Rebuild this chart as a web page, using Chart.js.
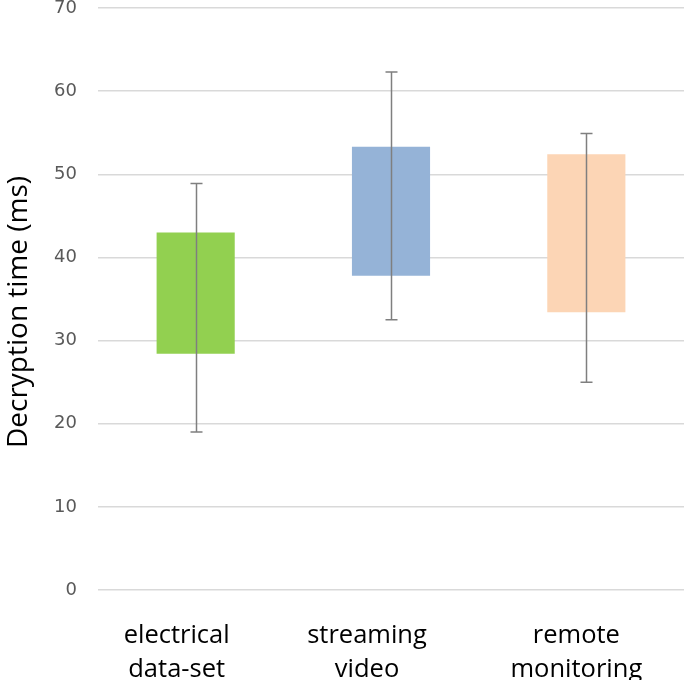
<!DOCTYPE html>
<html>
<head>
<meta charset="utf-8">
<script src="https://cdn.jsdelivr.net/npm/chart.js@4/dist/chart.umd.min.js"></script>
<style>
  html, body { margin: 0; padding: 0; background: #fff; }
  #wrap { width: 685px; height: 680px; position: relative; }
</style>
</head>
<body>
<div id="wrap"><canvas id="chart"></canvas></div>
<script>
/* data */
const categories  = [['electrical', 'data-set'], ['streaming', 'video'], ['remote', 'monitoring']];
const boxLow      = [28.4, 37.8, 33.4];
const boxHigh     = [43.0, 53.3, 52.4];
const whiskerLow  = [19.0, 32.5, 25.0];
const whiskerHigh = [48.9, 62.3, 54.9];
const barColors   = ['#92d050', '#95b3d7', '#fcd5b5'];
const yTicks      = [0, 10, 20, 30, 40, 50, 60, 70];
const yTitle      = 'Decryption time (ms)';

// layout: the category labels in the original sit a little left of their boxes
const labelShift = [-19, -24, -10];

const FONT = "'Open Sans', sans-serif";

// whiskers on top of the boxes, plus category labels and axis title
const extrasPlugin = {
  id: 'extras',
  afterDatasetsDraw(chart) {
    const { ctx, scales: { x, y } } = chart;
    ctx.save();
    ctx.strokeStyle = '#7f7f7f';
    ctx.lineWidth = 1.5;
    whiskerLow.forEach((lo, i) => {
      const cx = Math.round(x.getPixelForValue(i)) + 0.5;
      const yLo = y.getPixelForValue(lo);
      const yHi = y.getPixelForValue(whiskerHigh[i]);
      ctx.beginPath();
      ctx.moveTo(cx, yLo); ctx.lineTo(cx, yHi);
      ctx.moveTo(cx - 6, yLo); ctx.lineTo(cx + 6, yLo);
      ctx.moveTo(cx - 6, yHi); ctx.lineTo(cx + 6, yHi);
      ctx.stroke();
    });
    ctx.restore();
  },
  afterDraw(chart) {
    const { ctx, scales: { x } } = chart;
    ctx.save();
    ctx.fillStyle = '#000';
    ctx.textAlign = 'center';
    ctx.textBaseline = 'alphabetic';
    ctx.font = '25.5px ' + FONT;
    categories.forEach((lines, i) => {
      const cx = x.getPixelForValue(i) + labelShift[i];
      lines.forEach((t, k) => ctx.fillText(t, cx, 643 + k * 34));
    });
    // y title, rotated
    ctx.translate(27, 312);
    ctx.rotate(-Math.PI / 2);
    ctx.font = '28px ' + FONT;
    ctx.fillText(yTitle, 0, 0);
    ctx.restore();
  }
};

new Chart(document.getElementById('chart'), {
  type: 'bar',
  data: {
    labels: categories,
    datasets: [{
      data: boxLow.map((lo, i) => [lo, boxHigh[i]]),
      backgroundColor: barColors,
      borderWidth: 0,
      barPercentage: 0.4,
      categoryPercentage: 1
    }]
  },
  options: {
    responsive: true,
    maintainAspectRatio: false,
    animation: false,
    layout: { padding: { top: 8, right: 1, left: 0, bottom: 0 } },
    plugins: { legend: { display: false }, tooltip: { enabled: false } },
    scales: {
      x: {
        grid: { display: false },
        border: { display: false },
        ticks: { display: false },
        afterFit: s => { s.height = 90; s.paddingTop = 0; s.paddingBottom = 0; }
      },
      y: {
        min: 0, max: 70,
        afterBuildTicks: s => { s.ticks = yTicks.map(v => ({ value: v })); },
        grid: { color: '#d9d9d9', lineWidth: 1.5, drawTicks: false },
        border: { display: false },
        ticks: {
          color: '#595959',
          padding: 21,
          font: { family: "'DejaVu Sans', sans-serif", size: 18 }
        },
        afterFit: s => { s.width = 98; s.paddingTop = 0; s.paddingBottom = 0; }
      }
    }
  },
  plugins: [extrasPlugin]
});
</script>
</body>
</html>
